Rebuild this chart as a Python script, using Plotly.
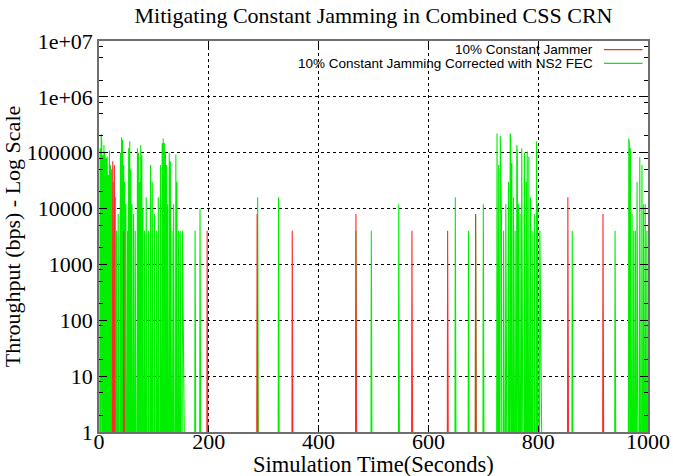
import plotly.graph_objects as go

# ---------------- data ----------------
title_text = "Mitigating Constant Jamming in Combined CSS CRN"
x_label = "Simulation Time(Seconds)"
y_label = "Throughput (bps) - Log Scale"
series_names = ["10% Constant Jammer", "10% Constant Jamming Corrected with NS2 FEC"]

# red series: seconds with non-zero throughput (bps)
red_t = [25, 28, 45, 197, 288, 352, 468, 570, 635, 686, 854, 918]
red_v = [70000, 60000, 4000, 4000, 8000, 4000, 8000, 4000, 4000, 8000, 16000, 8000]

# green series: seconds with non-zero throughput (bps)
green_t = [2, 4, 5, 7, 9, 11, 13, 15, 17, 19, 21, 23, 26, 30, 32, 35, 39, 41, 43, 45,
           47, 49, 52, 54, 56, 58, 60, 63, 66, 70, 72, 74, 76, 78, 80, 83, 86, 90, 94,
           97, 101, 105, 108, 112, 115, 117, 119, 121, 123, 125, 128, 130, 133, 136,
           140, 142, 145, 148, 152, 175, 184,
           289, 327, 468, 496, 546, 649, 673, 686, 700,
           725, 728, 731, 732, 733, 737, 741, 746, 749, 750, 752, 755, 758, 761, 762,
           764, 767, 770, 771, 775, 778, 780, 783, 786, 789, 793, 797, 799, 803,
           862, 940,
           965, 966, 968, 971, 974, 977, 980, 985, 986, 989, 992, 995, 998]
green_v = [120000, 215000, 150000, 90000, 137000, 100000, 80000, 85000, 40000, 110000,
           60000, 50000, 30000, 16000, 4000, 8000, 100000, 190000, 170000, 60000,
           30000, 12000, 4000, 120000, 160000, 50000, 12000, 8000, 4000, 120000,
           100000, 30000, 137000, 90000, 10000, 4000, 16000, 4000, 60000,
           30000, 8000, 4000, 16000, 60000, 147000, 180000, 150000, 100000, 60000,
           12000, 100000, 70000, 4000, 12000,
           93000, 30000, 4000, 4000, 4000, 4000, 10000,
           16000, 16000, 4000, 4000, 12000, 16000, 4000, 8000, 12000,
           220000, 60000, 200000, 49000, 8000, 4000, 12000, 30000, 220000, 180000,
           65000, 16000, 4000, 137000, 90000,
           12000, 8000, 120000, 100000, 100000, 30000, 105000, 85000, 16000, 4000,
           8000, 160000, 12000, 4000,
           4000, 4000,
           180000, 150000, 120000, 8000, 4000, 4000, 30000, 83000, 70000, 60000,
           12000, 12000, 4000]

x_ticks = [0, 200, 400, 600, 800, 1000]
y_tickvals = [1, 10, 100, 1000, 10000, 100000, 1000000, 10000000]
y_ticktext = ["1", "10", "100", "1000", "10000", "100000", "1e+06", "1e+07"]
y_minor = [m * 10 ** k for k in range(0, 7) for m in (2, 5, 8)]

SIM_END = 1000
ZERO = 1e-3  # stands in for zero throughput on the log axis (below the visible range)


def per_second(ts, vs):
    xs = list(range(SIM_END + 1))
    ys = [ZERO] * (SIM_END + 1)
    for t, v in zip(ts, vs):
        ys[t] = v
    return xs, ys


gx, gy = per_second(green_t, green_v)
rx, ry = per_second(red_t, red_v)

RED = "#ff2a2a"
GREEN = "#00ee00"

fig = go.Figure()
fig.add_trace(go.Scatter(x=gx, y=gy, mode="lines", name=series_names[1],
                         line=dict(color=GREEN, width=1.1), showlegend=False))
fig.add_trace(go.Scatter(x=rx, y=ry, mode="lines", name=series_names[0],
                         line=dict(color=RED, width=1.1), showlegend=False))

serif = "Liberation Serif, Times New Roman, serif"
axis_col = "#6e6e6e"

fig.update_layout(
    width=673, height=476,
    margin=dict(l=98.5, r=25.3, t=40.7, b=43.7, autoexpand=False),
    paper_bgcolor="white", plot_bgcolor="white",
    title=dict(text=title_text, x=0.5, xref="paper", xanchor="center",
               y=0.968, yref="container", yanchor="middle",
               font=dict(family=serif, size=22, color="black")),
    showlegend=False,
)

fig.update_xaxes(
    range=[0, 1000], tickvals=x_ticks, ticks="inside", ticklen=6, tickcolor="black",
    showline=True, linecolor=axis_col, linewidth=1.5, mirror="ticks",
    showgrid=True, gridcolor="black", griddash="dot", gridwidth=1,
    zeroline=False, automargin=False, ticklabelstandoff=-11,
    tickfont=dict(family=serif, size=22, color="black"),
)
fig.update_yaxes(
    type="log", range=[0, 7], tickmode="array", tickvals=y_tickvals, ticktext=y_ticktext,
    ticks="inside", ticklen=8, tickcolor="black",
    showline=True, linecolor=axis_col, linewidth=1.5, mirror="ticks",
    showgrid=True, gridcolor="black", griddash="dot", gridwidth=1,
    zeroline=False, automargin=False,
    minor=dict(tickmode="array", tickvals=y_minor, ticks="inside", ticklen=4,
               tickcolor="black", showgrid=False),
    tickfont=dict(family=serif, size=22, color="black"),
    title=dict(text=y_label, font=dict(family=serif, size=22, color="black"), standoff=2),
)

# x-axis title placed as in the reference (just under the tick labels)
fig.add_annotation(text=x_label, xref="paper", yref="paper", x=0.5, y=-0.083,
                   xanchor="center", yanchor="middle", showarrow=False,
                   font=dict(family=serif, size=22.5, color="black"))

# gnuplot-style key: right-aligned text followed by the line sample
legend_rows_y = [0.978, 0.943]
legend_cols = [RED, GREEN]
for name, yy, col in zip(series_names, legend_rows_y, legend_cols):
    fig.add_annotation(text=name, xref="paper", yref="paper", x=0.904, y=yy,
                       xanchor="right", yanchor="middle", showarrow=False,
                       font=dict(family="Liberation Sans, Arial, sans-serif", size=13.5,
                                 color="black"))
    fig.add_shape(type="line", xref="paper", yref="paper", x0=0.920, x1=0.990,
                  y0=yy, y1=yy, line=dict(color=col, width=1.2))

fig.write_html("out.html")
